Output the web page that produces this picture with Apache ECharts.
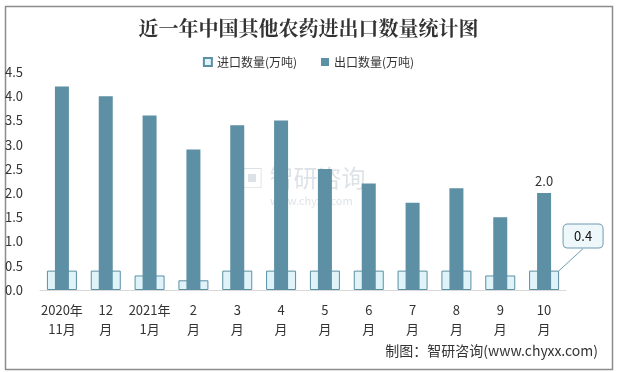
<!DOCTYPE html>
<html><head><meta charset="utf-8">
<script src="https://cdn.jsdelivr.net/npm/echarts@6/dist/echarts.min.js"></script>
<style>html,body{margin:0;padding:0;background:#fff}#c{width:617px;height:372px}</style>
</head><body><div id="c"></div>
<script>
var categories = ['2020年\n11月','12\n月','2021年\n1月','2\n月','3\n月','4\n月','5\n月','6\n月','7\n月','8\n月','9\n月','10\n月'];
var importValues = [0.4,0.4,0.3,0.2,0.4,0.4,0.4,0.4,0.4,0.4,0.3,0.4];
var exportValues = [4.2,4.0,3.6,2.9,3.4,3.5,2.5,2.2,1.8,2.1,1.5,2.0];
var yTicks = [0,0.5,1,1.5,2,2.5,3,3.5,4,4.5];

var last = categories.length - 1;
var font = '"Microsoft YaHei","Noto Sans CJK SC",sans-serif';
var chart = echarts.init(document.getElementById('c'));
chart.setOption({
  animation: false,
  title: {
    text: '近一年中国其他农药进出口数量统计图',
    left: 'center', top: 13,
    textStyle: {fontFamily: '"Noto Serif CJK SC","Noto Sans CJK SC",serif', fontSize: 20, fontWeight: 'bold', color: '#333'}
  },
  legend: {
    top: 51, left: 'center', itemWidth: 8, itemHeight: 8, itemGap: 24, icon: 'rect',
    textStyle: {fontFamily: font, fontSize: 12, color: '#333'},
    data: ['进口数量(万吨)','出口数量(万吨)']
  },
  grid: {left: 40, right: 51, top: 72, bottom: 82},
  xAxis: [{
    type: 'category', data: categories,
    axisLine: {lineStyle: {color: '#d9d9d9'}}, axisTick: {show: false},
    axisLabel: {color: '#333', fontSize: 13, fontFamily: font, lineHeight: 19, margin: 11, interval: 0}
  },{
    type: 'category', data: categories, show: false
  }],
  yAxis: {
    type: 'value', min: 0, max: 4.5, interval: 0.5,
    splitLine: {show: false}, axisLine: {show: false}, axisTick: {show: false},
    axisLabel: {color: '#333', fontSize: 13, fontFamily: font, align: 'left', margin: 35,
      formatter: function(v){ return yTicks.indexOf(v) >= 0 ? v.toFixed(1) : ''; }}
  },
  graphic: [
    {type: 'rect', left: 3, top: 4, shape: {width: 607, height: 363}, style: {fill: 'none', stroke: '#8c8c8c', lineWidth: 1.5}, silent: true},
    {type: 'text', left: 240, top: 166, style: {text: '\u25A3 智研咨询', fontSize: 24, fontFamily: font, fill: 'rgba(120,140,160,0.25)'}, silent: true},
    {type: 'text', left: 270, top: 195, style: {text: 'www.chyxx.com', fontSize: 11, fontFamily: font, fill: 'rgba(120,140,160,0.25)'}, silent: true},
    {type: 'text', right: 19, top: 344, style: {text: '制图：智研咨询(www.chyxx.com)', fontSize: 14, fontFamily: font, fill: '#333'}, silent: true}
  ],
  series: [{
    name: '进口数量(万吨)', type: 'bar', xAxisIndex: 0, barWidth: 30,
    itemStyle: {color: '#dff3f9', borderColor: '#5b8fa3', borderWidth: 1},
    data: importValues.map(function(v, i){
      if (i !== last) return v;
      return {value: v, label: {show: true, position: 'top', distance: 5, formatter: '{c}',
        color: '#111', fontSize: 13, fontFamily: font,
        backgroundColor: '#eef8fa', borderColor: '#6e9bb0', borderWidth: 1, borderRadius: 4,
        padding: [5, 11], width: 17, align: 'center'},
        labelLine: {show: true, lineStyle: {color: '#6e9bb0', width: 1}}};
    }),
    labelLayout: function(p){ return p.dataIndex === last ? {dx: 39, dy: -18} : {}; },
    labelLine: {show: true, lineStyle: {color: '#6e9bb0'}}
  },{
    name: '出口数量(万吨)', type: 'bar', xAxisIndex: 1, barWidth: 14,
    itemStyle: {color: '#5d8fa5'},
    data: exportValues.map(function(v, i){
      if (i !== last) return v;
      return {value: v, label: {show: true, position: 'top', distance: 6, formatter: function(p){return p.value.toFixed(1);},
        color: '#333', fontSize: 13, fontFamily: font}};
    })
  }]
});
</script></body></html>
